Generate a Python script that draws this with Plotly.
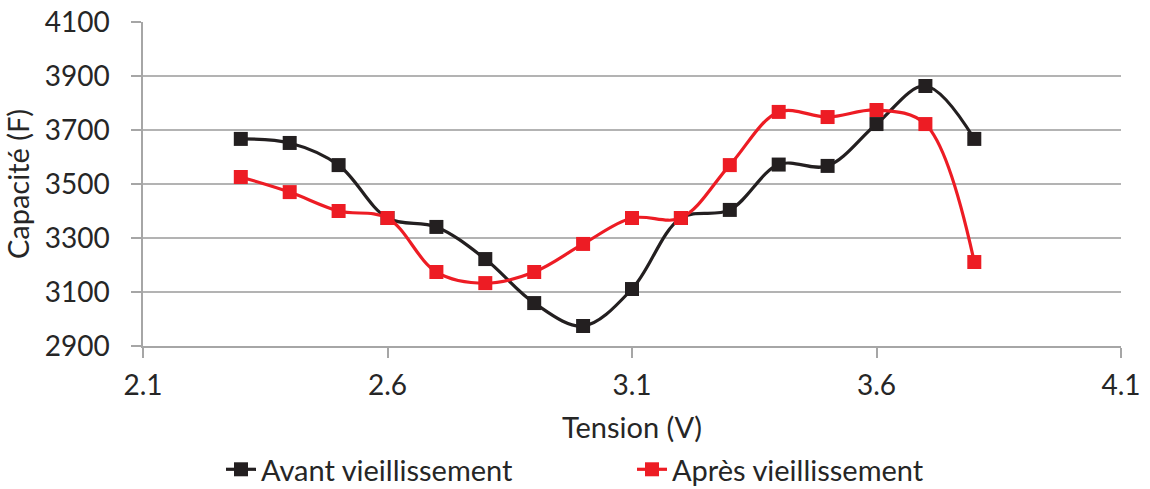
import plotly.graph_objects as go

# Tension (V)
tension = [2.3, 2.4, 2.5, 2.6, 2.7, 2.8, 2.9, 3.0, 3.1, 3.2, 3.3, 3.4, 3.5, 3.6, 3.7, 3.8]

# Capacité (F)
avant = [3667, 3652, 3570, 3374, 3341, 3222, 3059, 2974, 3111, 3374, 3404, 3572, 3567, 3722, 3863, 3667]
apres = [3526, 3470, 3400, 3374, 3174, 3133, 3174, 3278, 3374, 3374, 3570, 3767, 3748, 3774, 3722, 3211]

x_ticks = [2.1, 2.6, 3.1, 3.6, 4.1]
y_ticks = [2900, 3100, 3300, 3500, 3700, 3900, 4100]

FONT = "Lato, 'Open Sans', sans-serif"
TXT = "#262626"
AXIS = "#a6a6a6"

fig = go.Figure()
fig.add_trace(go.Scatter(
    x=tension, y=avant, name="Avant vieillissement",
    mode="lines+markers",
    line=dict(color="#231f20", width=3.2, shape="spline", smoothing=1),
    marker=dict(symbol="square", size=14, color="#231f20"),
))
fig.add_trace(go.Scatter(
    x=tension, y=apres, name="Après vieillissement",
    mode="lines+markers",
    line=dict(color="#ed1c24", width=3.2, shape="spline", smoothing=1),
    marker=dict(symbol="square", size=14, color="#ed1c24"),
))

fig.update_layout(
    width=1150, height=489,
    margin=dict(l=143, r=29, t=22, b=143),
    paper_bgcolor="white", plot_bgcolor="white",
    font=dict(family=FONT, size=28, color=TXT),
    showlegend=True,
    legend=dict(
        orientation="h", x=0.5, xanchor="center",
        yref="container", y=0.04, yanchor="middle",
        entrywidth=366, entrywidthmode="pixels",
        font=dict(size=29, color=TXT), tracegroupgap=0,
    ),
)
fig.update_xaxes(
    range=[2.1, 4.1], tickvals=x_ticks, ticktext=[str(v) for v in x_ticks],
    showgrid=False, zeroline=False, automargin=False,
    showline=True, linecolor=AXIS, linewidth=1.5,
    ticks="outside", ticklen=10, tickcolor=AXIS, tickwidth=1.5,
    ticklabelstandoff=4,
    tickfont=dict(size=28, color=TXT),
    title=dict(text="Tension (V)", font=dict(size=29, color=TXT), standoff=30),
)
fig.update_yaxes(
    range=[2900, 4100], tickvals=y_ticks,
    showgrid=True, gridcolor="#b3b3b3", gridwidth=1.5, zeroline=False,
    automargin=False,
    showline=True, linecolor=AXIS, linewidth=1.5,
    ticks="outside", ticklen=10, tickcolor=AXIS, tickwidth=1.5,
    ticklabelstandoff=16,
    tickfont=dict(size=28, color=TXT),
    title=dict(text="Capacité (F)", font=dict(size=29, color=TXT), standoff=10),
)

fig.write_html("out.html")
